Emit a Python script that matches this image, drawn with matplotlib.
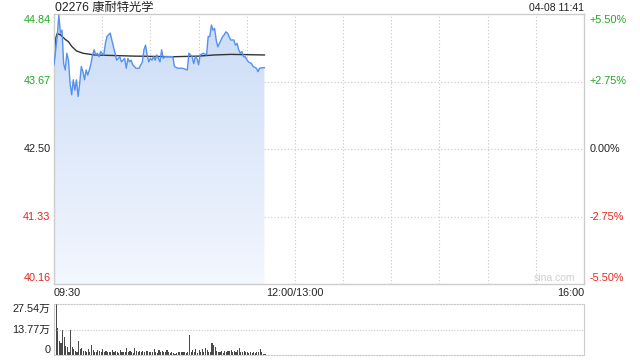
"""
intraday chart for 02276 (HK), price + volume
"""
import numpy as np
import matplotlib.pyplot as plt
from matplotlib.colors import LinearSegmentedColormap

plt.rcParams['font.family'] = ['Liberation Sans', 'Noto Sans CJK SC', 'DejaVu Sans']

title = "02276 康耐特光学"
stamp = "04-08 11:41"
prev_close = 42.50
y_lo, y_hi = 40.16, 44.84

# minutes since 09:30 (lunch break removed, 12:00 == 13:00 == 150)
t_price = [0, 2, 3, 4, 5, 6, 7, 8, 9, 10, 11, 12, 13, 14, 15, 16, 17, 18, 19, 20,
           21, 22, 23, 24, 25, 26, 27, 28, 29, 31, 32, 33, 35, 36, 38, 39, 41, 42, 44, 45,
           46, 47, 48, 49, 51, 53, 55, 56, 57, 58, 59, 60, 61, 62, 63, 64, 66, 67, 68, 69,
           72, 74, 75, 77, 80, 83, 84, 86, 87, 88, 89, 90, 91, 93, 95, 96, 97, 98, 99, 100,
           101, 102, 103, 105, 106, 107, 108, 110, 112, 113, 114, 115, 116, 117, 118, 119,
           121, 123, 124, 126, 127, 128, 130, 131]
price = [43.96, 44.45, 44.82, 44.51, 44.56, 43.98, 43.87, 44.16, 44.04, 43.64,
         43.44, 43.70, 43.52, 43.70, 43.41, 43.64, 43.93, 43.84, 43.70, 43.87,
         43.78, 43.87, 43.98, 44.13, 44.22, 44.13, 44.16, 44.10, 44.19, 44.13,
         44.33, 44.45, 44.51, 44.39, 44.16, 44.04, 44.10, 44.01, 44.07, 43.90,
         44.07, 44.01, 44.04, 43.96, 43.90, 43.90, 44.01, 44.22, 44.30, 44.13,
         44.01, 44.07, 44.04, 44.10, 44.04, 44.13, 44.01, 44.22, 44.07, 44.10,
         44.10, 44.10, 43.93, 43.90, 43.90, 43.87, 44.16, 44.10, 43.98, 44.10,
         44.07, 43.96, 44.13, 44.16, 44.13, 44.45, 44.45, 44.65, 44.56, 44.59,
         44.39, 44.27, 44.33, 44.45, 44.48, 44.53, 44.51, 44.39, 44.39, 44.30,
         44.33, 44.22, 44.16, 44.19, 44.10, 44.10, 44.01, 43.98, 43.93, 43.90,
         43.84, 43.90, 43.91, 43.91]

t_avg = [0, 1, 2, 4, 7, 9, 11, 14, 18, 25, 50, 75, 90, 100, 110, 131]
avg_price = [43.96, 44.42, 44.50, 44.48, 44.40, 44.36, 44.28, 44.20, 44.16, 44.13,
             44.11, 44.10, 44.11, 44.13, 44.14, 44.13]

# volume per minute, in 万 shares
volume = [15.8, 27.5, 14.5, 7.8, 6.7, 13.6, 9.6, 4.9, 4.2, 1.5,
          13.6, 4.2, 3.1, 2.4, 1.5, 7.8, 3.1, 3.6, 2.4, 2.2,
          1.8, 3.1, 1.4, 5.4, 2.7, 1.8, 1.4, 2.7, 2.2, 1.6,
          3.1, 1.6, 2.4, 1.4, 1.6, 1.6, 2.7, 1.6, 2.0, 1.8,
          1.3, 2.7, 1.8, 1.6, 1.8, 3.8, 1.6, 2.0, 1.6, 1.2,
          4.0, 2.0, 1.6, 2.4, 1.6, 2.0, 1.4, 2.2, 2.4, 1.6,
          1.8, 1.6, 3.4, 1.6, 1.3, 2.7, 1.6, 2.4, 1.6, 1.6,
          2.7, 1.6, 1.3, 1.6, 0.9, 0.7, 1.3, 1.8, 1.4, 1.6,
          1.6, 1.4, 1.3, 1.6, 10.9, 1.6, 2.7, 1.4, 3.4, 1.3,
          2.7, 1.4, 3.1, 1.6, 3.6, 2.7, 1.8, 1.6, 6.7, 5.4,
          4.5, 2.2, 1.8, 1.6, 2.0, 1.3, 2.4, 1.6, 2.4, 2.0,
          2.7, 1.6, 2.4, 1.6, 2.9, 3.8, 1.6, 1.4, 2.4, 1.6,
          1.8, 1.3, 1.6, 0.9, 1.4, 1.3, 1.4, 1.6, 3.3, 1.4,
          0.7, 0.5]
vol_top = 27.54

x_ticks = [0, 150, 330]
x_labels = ["09:30", "12:00/13:00", "16:00"]
y_ticks = [44.84, 43.67, 42.50, 41.33, 40.16]
pct_labels = ["+5.50%", "+2.75%", "0.00%", "-2.75%", "-5.50%"]

green = "#1fa81f"
red = "#e8241c"
grid_c = "#c8c8c8"
edge_c = "#cccccc"

fig = plt.figure(figsize=(6.4, 3.6), dpi=100)
ax = fig.add_axes([54/640, 1-284/360, 530/640, 270/360])
axv = fig.add_axes([54/640, 1-355/360, 530/640, 51/360])

# ---- price panel
ax.set_xlim(0, 330)
ax.set_ylim(y_lo, y_hi)
for gx in range(30, 330, 30):
    ax.axvline(gx, color=grid_c, lw=0.8, ls=(0, (1, 2)), zorder=0)
for gy in y_ticks[1:-1]:
    ax.axhline(gy, color=grid_c, lw=0.8, ls=(0, (1, 2)), zorder=0)

# gradient fill under the price line
fill = ax.fill_between(t_price, price, y_lo, color="none", lw=0)
cmap = LinearSegmentedColormap.from_list("f", ["#f3f7fe", "#cbdcf7"])
grad = np.linspace(0, 1, 256).reshape(-1, 1)
img = ax.imshow(grad, cmap=cmap, aspect="auto", origin="lower",
                extent=[0, 131, y_lo, max(price)], zorder=1)
img.set_clip_path(fill.get_paths()[0], transform=ax.transData)

ax.plot(t_price, price, color="#5591ef", lw=1.0, zorder=3)
ax.plot(t_avg, avg_price, color="#333333", lw=1.0, zorder=2)

ax.set_xticks([])
ax.set_yticks([])
for s in ax.spines.values():
    s.set_color(edge_c)
    s.set_linewidth(1.0)

for v, p in zip(y_ticks, pct_labels):
    c = green if v > prev_close else (red if v < prev_close else "#222222")
    va = "top" if v == y_hi else ("bottom" if v == y_lo else "center")
    off = -1 if v == y_hi else (1 if v == y_lo else 0)
    ax.annotate(f"{v:.2f}", (0, v), xycoords=("axes fraction", "data"),
                xytext=(-2.5, off), textcoords="offset points",
                ha="right", va=va, color=c, fontsize=7.8)
    ax.annotate(p, (1, v), xycoords=("axes fraction", "data"),
                xytext=(4, off), textcoords="offset points",
                ha="left", va=va, color=c, fontsize=7.8)

for xt, lab in zip(x_ticks, x_labels):
    ha = "left" if xt == 0 else ("right" if xt == 330 else "center")
    ax.annotate(lab, (xt, 0), xycoords=("data", "axes fraction"),
                xytext=(0, -3), textcoords="offset points",
                ha=ha, va="top", color="#222222", fontsize=7.8)

fig.text(55/640, 1-7.5/360, title, ha="left", va="center",
         fontsize=8.8, color="#222222")
fig.text(584/640, 1-8/360, stamp, ha="right", va="center",
         fontsize=7.5, color="#222222")
ax.text(0.9825, 0.005, "sina.com", transform=ax.transAxes, ha="right", va="bottom",
        fontsize=7.5, color="#cfcfcf")

# ---- volume panel
axv.set_xlim(0, 330)
axv.set_ylim(0, vol_top)
axv.bar(np.arange(len(volume)), volume, width=0.7, color="#4a4a4a", align="edge")
axv.axhline(vol_top / 2, color=grid_c, lw=0.8, ls=(0, (1, 1.5)))
axv.set_xticks([])
axv.set_yticks([])
for k in ("top", "bottom"):
    axv.spines[k].set_linestyle((0, (1, 1.5)))
    axv.spines[k].set_color(grid_c)
for k in ("left", "right"):
    axv.spines[k].set_color(edge_c)
vol_labels = ["27.54万", "13.77万", "0"]
for v, lab, va in zip([vol_top, vol_top / 2, 0], vol_labels, ["top", "center", "bottom"]):
    axv.annotate(lab, (0, v), xycoords=("axes fraction", "data"),
                 xytext=(-2.5, 0), textcoords="offset points",
                 ha="right", va=va, color="#222222", fontsize=7.8)

fig.savefig("out.png", dpi=100)
